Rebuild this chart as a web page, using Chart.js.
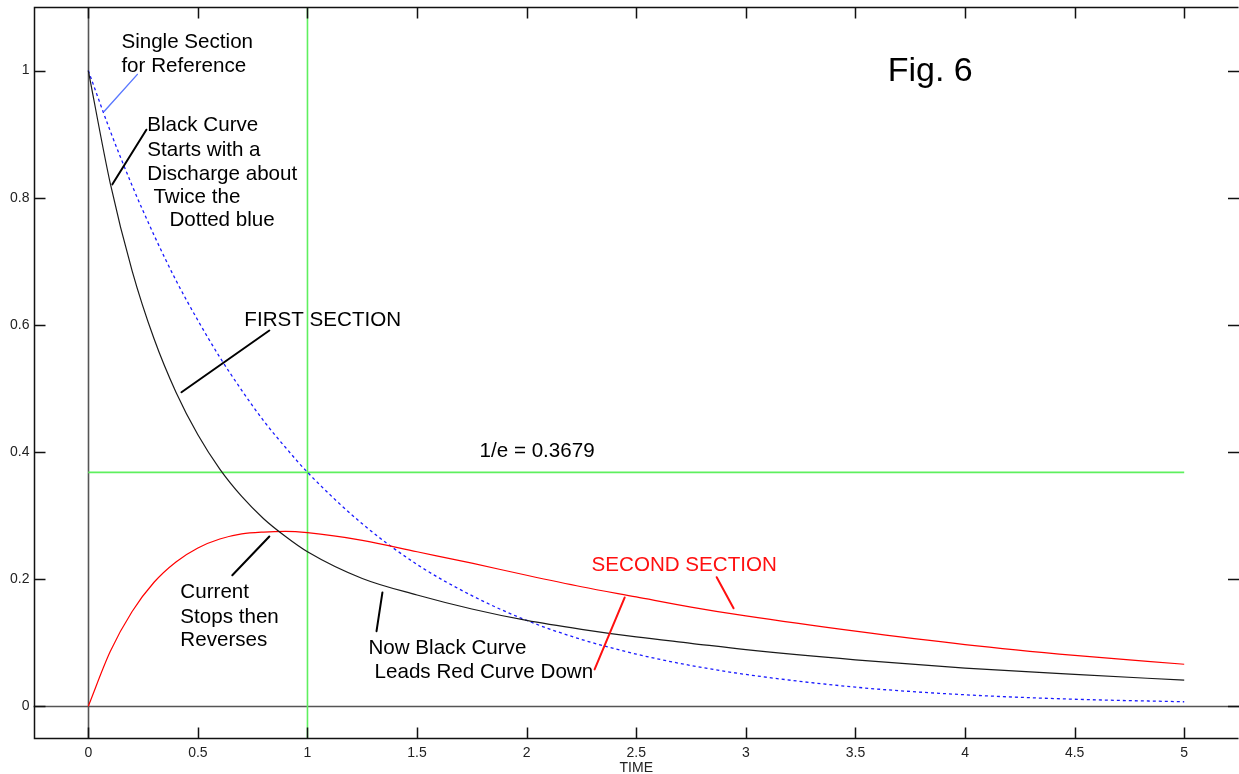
<!DOCTYPE html>
<html>
<head>
<meta charset="utf-8">
<script src="https://cdn.jsdelivr.net/npm/chart.js@4/dist/chart.umd.min.js"></script>
<style>
  html, body { margin: 0; padding: 0; background: #fff; }
</style>
</head>
<body>
<canvas id="fig6" width="1239" height="774"></canvas>
<script>
// ── data ─────────────────────────────────────────
const timeValues    = [0, 0.1, 0.2, 0.3, 0.4, 0.5, 0.6, 0.7, 0.8, 0.9, 1.0, 1.25, 1.5, 1.75, 2.0, 2.25, 2.5, 2.75, 3.0, 3.5, 4.0, 4.5, 5.0];
const singleSection = [1.000, 0.905, 0.819, 0.741, 0.670, 0.607, 0.549, 0.497, 0.449, 0.407, 0.368, 0.287, 0.223, 0.174, 0.135, 0.105, 0.082, 0.064, 0.050, 0.030, 0.018, 0.011, 0.007];
const firstSection  = [1.000, 0.823, 0.685, 0.578, 0.494, 0.427, 0.373, 0.330, 0.295, 0.267, 0.243, 0.201, 0.175, 0.153, 0.135, 0.121, 0.109, 0.099, 0.089, 0.073, 0.060, 0.050, 0.041];
const secondSection = [0.000, 0.086, 0.149, 0.195, 0.227, 0.249, 0.263, 0.271, 0.274, 0.275, 0.273, 0.261, 0.243, 0.225, 0.206, 0.188, 0.172, 0.156, 0.142, 0.118, 0.097, 0.080, 0.066];

const xTickValues = [0, 0.5, 1, 1.5, 2, 2.5, 3, 3.5, 4, 4.5, 5];
const yTickValues = [0, 0.2, 0.4, 0.6, 0.8, 1];

const tauTime   = 1;       // vertical green marker
const oneOverE  = 0.3679;  // horizontal green marker

// ── annotations (data coordinates) ───────────────
const NOTE_FONT = '20.6px "Liberation Sans", Arial, sans-serif';
const notes = [
    { text: 'Single Section', x: 0.151, y: 1.049 },
    { text: 'for Reference', x: 0.151, y: 1.011 },
    { text: 'Black Curve', x: 0.269, y: 0.918 },
    { text: 'Starts with a', x: 0.269, y: 0.879 },
    { text: 'Discharge about', x: 0.269, y: 0.841 },
    { text: 'Twice the', x: 0.297, y: 0.805 },
    { text: 'Dotted blue', x: 0.370, y: 0.769 },
    { text: 'FIRST SECTION', x: 0.712, y: 0.612 },
    { text: '1/e = 0.3679', x: 1.785, y: 0.406 },
    { text: 'Current', x: 0.420, y: 0.184 },
    { text: 'Stops then', x: 0.420, y: 0.145 },
    { text: 'Reverses', x: 0.420, y: 0.108 },
    { text: 'SECOND SECTION', x: 2.296, y: 0.226, color: '#ff1010' },
    { text: 'Now Black Curve', x: 1.278, y: 0.096 },
    { text: 'Leads Red Curve Down', x: 1.306, y: 0.058 },
    { text: 'Fig. 6', x: 3.647, y: 1.005, font: '34px "Liberation Sans", Arial, sans-serif', shift: 4 }
];

const pointers = [
    { from: [0.224, 0.994], to: [0.073, 0.936], color: '#5a78ff', width: 1.4 },
    { from: [0.265, 0.907], to: [0.110, 0.821], color: '#000', width: 2 },
    { from: [0.826, 0.591], to: [0.425, 0.494], color: '#000', width: 2 },
    { from: [0.826, 0.267], to: [0.657, 0.206], color: '#000', width: 2 },
    { from: [1.342, 0.179], to: [1.315, 0.118], color: '#000', width: 2 },
    { from: [2.447, 0.171], to: [2.310, 0.058], color: '#ff1010', width: 2 },
    { from: [2.944, 0.154], to: [2.867, 0.203], color: '#ff1010', width: 2 }
];

const toPoints = (ys) => timeValues.map((t, i) => ({ x: t, y: ys[i] }));

// ── box, zero lines, inside ticks, notes ─────────
const framePlugin = {
    id: 'frame',
    beforeDatasetsDraw(chart) {
        const { ctx, chartArea: a, scales: { x, y } } = chart;
        const x0 = Math.round(x.getPixelForValue(0)) + 0.5;
        const y0 = Math.round(y.getPixelForValue(0)) + 0.5;
        ctx.save();
        ctx.strokeStyle = '#555';
        ctx.lineWidth = 1.6;
        ctx.beginPath();
        ctx.moveTo(a.left, y0); ctx.lineTo(a.right, y0);
        ctx.moveTo(x0, a.top); ctx.lineTo(x0, a.bottom);
        ctx.stroke();
        ctx.restore();
    },
    afterDatasetsDraw(chart) {
        const { ctx, chartArea: a, scales: { x, y } } = chart;
        const L = Math.round(a.left) + 0.5, T = Math.round(a.top) + 0.5, B = Math.round(a.bottom) + 0.5;
        const R = a.right - 0.5;
        const len = 11;
        ctx.save();
        ctx.lineWidth = 1.5;
        ctx.strokeStyle = '#111';
        ctx.beginPath();
        ctx.moveTo(R, T); ctx.lineTo(L, T); ctx.lineTo(L, B); ctx.lineTo(R, B);
        // ticks inside the box
        xTickValues.forEach(v => {
            const px = Math.round(x.getPixelForValue(v)) + 0.5;
            ctx.moveTo(px, B); ctx.lineTo(px, B - len);
            ctx.moveTo(px, T); ctx.lineTo(px, T + len);
        });
        yTickValues.forEach(v => {
            const py = Math.round(y.getPixelForValue(v)) + 0.5;
            ctx.moveTo(L, py); ctx.lineTo(L + len, py);
            ctx.moveTo(a.right, py); ctx.lineTo(a.right - len, py);
        });
        ctx.stroke();
        ctx.restore();
    },
    afterDraw(chart) {
        const { ctx, scales: { x, y } } = chart;
        ctx.save();
        ctx.lineCap = 'round';
        pointers.forEach(p => {
            ctx.strokeStyle = p.color;
            ctx.lineWidth = p.width;
            ctx.beginPath();
            ctx.moveTo(x.getPixelForValue(p.from[0]), y.getPixelForValue(p.from[1]));
            ctx.lineTo(x.getPixelForValue(p.to[0]), y.getPixelForValue(p.to[1]));
            ctx.stroke();
        });
        ctx.textAlign = 'left';
        ctx.textBaseline = 'middle';
        notes.forEach(n => {
            ctx.font = n.font || NOTE_FONT;
            ctx.fillStyle = n.color || '#000';
            // middle of em box sits a little above the cap middle
            ctx.fillText(n.text, x.getPixelForValue(n.x), y.getPixelForValue(n.y) + (n.shift || 3));
        });
        ctx.restore();
    }
};

const tickFont = { family: '"Liberation Sans", Arial, sans-serif', size: 14 };

// scale paddings would otherwise push the plot box inward
const noScalePadding = (s) => {
    s.paddingTop = 0; s.paddingBottom = 0; s.paddingLeft = 0; s.paddingRight = 0;
};

new Chart(document.getElementById('fig6').getContext('2d'), {
    type: 'line',
    data: {
        datasets: [
            {
                data: toPoints(firstSection),
                borderColor: '#1a1a1a',
                borderWidth: 1.2,
                order: 1
            },
            {
                data: toPoints(secondSection),
                borderColor: '#ff0000',
                borderWidth: 1.2,
                order: 1
            },
            {
                data: toPoints(singleSection),
                borderColor: '#1a1aff',
                borderWidth: 1.3,
                borderDash: [3, 3],
                order: 1
            },
            {
                data: [{ x: 0, y: oneOverE }, { x: 5, y: oneOverE }],
                borderColor: '#5ef05e',
                borderWidth: 1.6,
                order: 3
            },
            {
                data: [{ x: tauTime, y: -0.05 }, { x: tauTime, y: 1.1 }],
                borderColor: '#5ef05e',
                borderWidth: 1.6,
                order: 3
            }
        ]
    },
    options: {
        responsive: false,
        animation: false,
        devicePixelRatio: 1,
        layout: { padding: { top: 7, right: 0, bottom: 0, left: 0 } },
        elements: {
            point: { radius: 0 },
            line: { cubicInterpolationMode: 'monotone', fill: false }
        },
        plugins: {
            legend: { display: false },
            tooltip: { enabled: false }
        },
        scales: {
            x: {
                type: 'linear',
                min: -0.25,
                max: 5.25,
                grid: { display: false, drawTicks: false },
                border: { display: false },
                afterBuildTicks: (s) => { s.ticks = xTickValues.map(v => ({ value: v })); },
                afterFit: (s) => { s.height = 36; noScalePadding(s); },
                ticks: {
                    color: '#222',
                    font: tickFont,
                    padding: 7,
                    maxRotation: 0,
                    autoSkip: false,
                    callback: (v) => String(v)
                },
                title: {
                    display: true,
                    text: 'TIME',
                    color: '#222',
                    font: tickFont,
                    padding: { top: 0, bottom: -3 }
                }
            },
            y: {
                type: 'linear',
                min: -0.05,
                max: 1.1,
                grid: { display: false, drawTicks: false },
                border: { display: false },
                afterBuildTicks: (s) => { s.ticks = yTickValues.map(v => ({ value: v })); },
                afterFit: (s) => { s.width = 33.5; noScalePadding(s); },
                ticks: {
                    color: '#222',
                    font: tickFont,
                    padding: 4,
                    autoSkip: false,
                    callback: (v) => String(v)
                }
            }
        }
    },
    plugins: [framePlugin]
});
</script>
</body>
</html>
